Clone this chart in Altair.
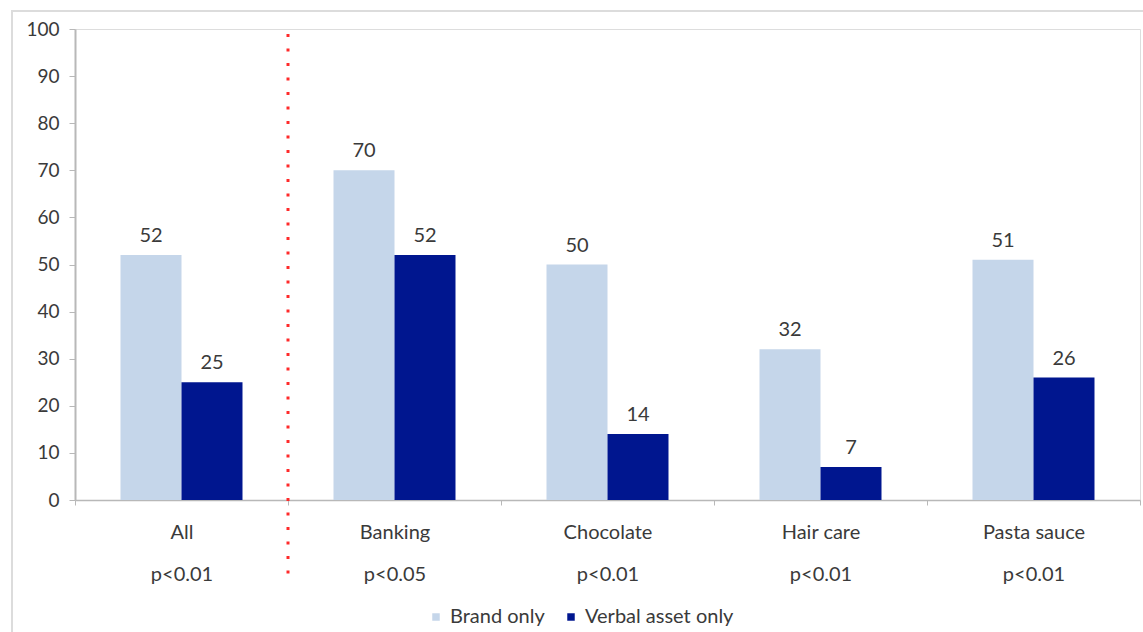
import altair as alt
import pandas as pd

categories = ["All", "Banking", "Chocolate", "Hair care", "Pasta sauce"]
pvalues = ["p<0.01", "p<0.05", "p<0.01", "p<0.01", "p<0.01"]
series = ["Brand only", "Verbal asset only"]
brand_only = [52, 70, 50, 32, 51]
verbal_only = [25, 52, 14, 7, 26]
colors = ["#c5d6ea", "#00168f"]
y_ticks = [0, 10, 20, 30, 40, 50, 60, 70, 80, 90, 100]

rows = []
for c, b, v in zip(categories, brand_only, verbal_only):
    rows.append({"category": c, "series": series[0], "value": b})
    rows.append({"category": c, "series": series[1], "value": v})
df = pd.DataFrame(rows)

FONT = "Lato"
TXT = "#3a3a3a"

label_expr = " : ".join(
    f"datum.value == '{c}' ? ['{c}', '{p}']" for c, p in zip(categories, pvalues)
) + " : datum.label"

x_enc = alt.X(
    "category:N",
    sort=categories,
    scale=alt.Scale(paddingInner=0, paddingOuter=0),
    axis=alt.Axis(
        title=None,
        labelAngle=0,
        labelExpr=label_expr,
        labelFont=FONT,
        labelFontSize=20,
        labelColor=TXT,
        labelPadding=17,
        labelLineHeight=42,
        tickBand="extent",
        tickSize=5,
        tickColor="#b8b8b8",
        domainColor="#b8b8b8",
        domainWidth=1.5,
    ),
)

xoff = alt.XOffset(
    "series:N",
    sort=series,
    scale=alt.Scale(paddingInner=0, paddingOuter=0.746),
)

y_scale = alt.Scale(domain=[0, 100])

bars = alt.Chart(df).mark_bar().encode(
    x=x_enc,
    xOffset=xoff,
    y=alt.Y(
        "value:Q",
        scale=y_scale,
        axis=alt.Axis(
            title=None,
            values=y_ticks,
            grid=False,
            labelFont=FONT,
            labelFontSize=19,
            labelColor=TXT,
            labelPadding=10,
            tickSize=6,
            tickColor="#b8b8b8",
            domainColor="#b8b8b8",
            domainWidth=2,
        ),
    ),
    color=alt.Color(
        "series:N",
        sort=series,
        scale=alt.Scale(domain=series, range=colors),
        legend=alt.Legend(
            title=None,
            orient="none",
            direction="horizontal",
            legendX=351,
            legendY=578,
            symbolType="square",
            symbolSize=56,
            symbolStrokeWidth=0,
            labelFont=FONT,
            labelFontSize=20,
            labelColor=TXT,
            labelOffset=4,
            columnPadding=16,
        ),
    ),
)

texts = alt.Chart(df).mark_text(
    baseline="bottom", dy=-9, font=FONT, fontSize=20, color=TXT
).encode(
    x=alt.X("category:N", sort=categories),
    xOffset=xoff,
    y=alt.Y("value:Q", scale=y_scale),
    text="value:Q",
)

sep = alt.Chart(pd.DataFrame({"category": ["Banking"]})).mark_rule(
    color="#ff2a2a", strokeWidth=3, strokeDash=[3, 11.5]
).encode(
    x=alt.X("category:N", sort=categories, bandPosition=0),
    y=alt.value(5),
    y2=alt.value(556),
)

frame = alt.Chart(pd.DataFrame({"a": [0]})).mark_rect(
    fill=None, stroke="#dcdcdc", strokeWidth=2, clip=False
).encode(
    x=alt.value(-63),
    x2=alt.value(1100),
    y=alt.value(-18),
    y2=alt.value(700),
)

chart = alt.layer(frame, bars, texts, sep).properties(
    width=1065,
    height=471,
    autosize=alt.AutoSizeParams(type="none"),
    padding={"left": 75, "top": 29, "right": 3, "bottom": 132},
).configure_view(stroke=None).configure(background="white")

chart.save("out.html", embed_options={"renderer": "svg", "actions": False})
